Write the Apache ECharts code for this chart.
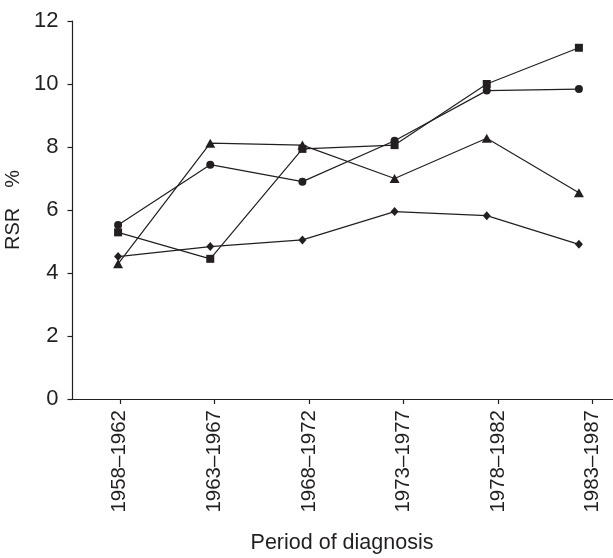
<!DOCTYPE html>
<html>
<head>
<meta charset="utf-8">
<script src="https://cdn.jsdelivr.net/npm/echarts@6/dist/echarts.min.js"></script>
<style>html,body{margin:0;padding:0;background:#fff}#c{width:613px;height:558px}</style>
</head>
<body>
<div id="c"></div>
<script>
const categories = ['1958–1962', '1963–1967', '1968–1972', '1973–1977', '1978–1982', '1983–1987'];
const circleSeries = [5.52, 7.44, 6.90, 8.20, 9.79, 9.84];
const squareSeries = [5.29, 4.45, 7.94, 8.06, 10.00, 11.15];
const triangleSeries = [4.29, 8.12, 8.06, 7.00, 8.28, 6.55];
const diamondSeries = [4.52, 4.84, 5.05, 5.95, 5.82, 4.91];
const yTicks = [0, 2, 4, 6, 8, 10, 12];

const FONT = "'Liberation Sans', Arial, sans-serif";
const INK = '#231f20';

const chart = echarts.init(document.getElementById('c'), null, {renderer: 'canvas'});

function lineSeries(name, data, symbol, size) {
  return {
    name: name, type: 'line', data: data, xAxisIndex: 1, yAxisIndex: 1,
    symbol: symbol, symbolSize: size, showSymbol: true,
    lineStyle: {color: INK, width: 1.2},
    itemStyle: {color: INK, borderWidth: 0},
    emphasis: {disabled: true}, animation: false
  };
}

chart.setOption({
  backgroundColor: '#fff',
  animation: false,
  grid: [
    {left: 72.5, right: -27, top: 21, bottom: 159, outerBoundsMode: 'none', containLabel: false},
    {left: 72, right: -12, top: 21, bottom: 159, outerBoundsMode: 'none', containLabel: false}
  ],
  xAxis: [
    {
      type: 'category', gridIndex: 0, data: categories, boundaryGap: true,
      axisLine: {show: true, lineStyle: {color: INK, width: 1.2}},
      axisTick: {show: true, alignWithLabel: true, length: 5, lineStyle: {color: INK, width: 1.2}},
      axisLabel: {rotate: 90, margin: 11, fontSize: 20.5, color: INK, fontFamily: FONT, interval: 0},
      splitLine: {show: false}
    },
    {
      type: 'category', gridIndex: 1, data: categories, boundaryGap: true, show: false
    }
  ],
  yAxis: [
    {
      type: 'value', gridIndex: 0, min: 0, max: 12, interval: 2,
      name: 'RSR\u2003%', nameLocation: 'middle', nameGap: 46, nameRotate: 90,
      nameTextStyle: {fontSize: 20, color: INK, fontFamily: FONT},
      axisLine: {show: true, lineStyle: {color: INK, width: 1.2}},
      axisTick: {show: true, length: 5, lineStyle: {color: INK, width: 1.2}},
      axisLabel: {margin: 14, fontSize: 22, color: INK, fontFamily: FONT,
        formatter: function (v) { return yTicks.indexOf(v) >= 0 ? String(v) : ''; }},
      splitLine: {show: false}
    },
    {type: 'value', gridIndex: 1, min: 0, max: 12, interval: 2, show: false}
  ],
  graphic: [{
    type: 'text', x: 342, y: 532,
    style: {text: 'Period of diagnosis', fontSize: 21.5, fontFamily: FONT, fill: INK, align: 'center', verticalAlign: 'top'}
  }],
  series: [
    lineSeries('circle', circleSeries, 'circle', 8),
    lineSeries('square', squareSeries, 'rect', 8),
    lineSeries('triangle', triangleSeries, 'triangle', [10, 9]),
    lineSeries('diamond', diamondSeries, 'diamond', [8, 9])
  ]
});
</script>
</body>
</html>
